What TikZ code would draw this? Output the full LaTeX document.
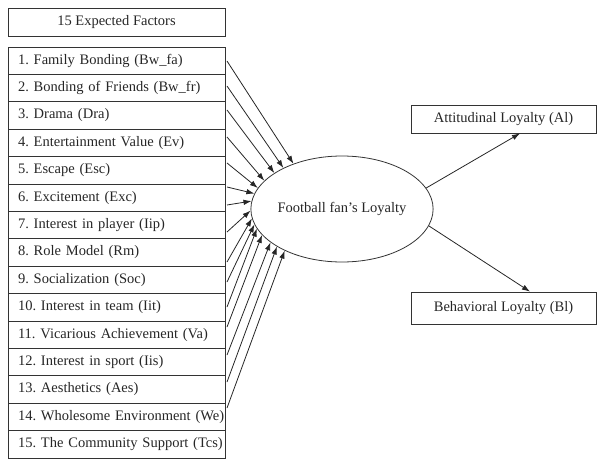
\documentclass[tikz,border=0pt]{standalone}
\usepackage{fontspec}
\setmainfont{Liberation Serif}
\usetikzlibrary{arrows.meta, shapes.geometric}

\tikzset{
  box/.style={draw=black!80, line width=0.8pt, inner sep=0pt, text=black!85},
  factor/.style={box, minimum height=27.4pt, text width=197pt, inner xsep=10pt, align=left},
  arr/.style={-{Latex[length=8pt,width=5.5pt]}, line width=0.8pt, draw=black!85},
}

\begin{document}
\begin{tikzpicture}[x=1pt, y=-1pt, font=\fontsize{14.5}{17}\selectfont\frenchspacing]
\def\w{217}
\def\h{27.4}
\useasboundingbox (0,0) rectangle (597,458);
\node[box, minimum width=\w pt, minimum height=28pt] (head) at (116.5,22) {15 Expected Factors};
\foreach \i/\t in {1/{1. Family Bonding (Bw\_fa)}, 2/{2. Bonding of Friends (Bw\_fr)},
    3/{3. Drama (Dra)}, 4/{4. Entertainment Value (Ev)}, 5/{5. Escape (Esc)},
    6/{6. Excitement (Exc)}, 7/{7. Interest in player (Iip)}, 8/{8. Role Model (Rm)},
    9/{9. Socialization (Soc)}, 10/{10. Interest in team (Iit)},
    11/{11. Vicarious Achievement (Va)}, 12/{12. Interest in sport (Iis)},
    13/{13. Aesthetics (Aes)}, 14/{14. Wholesome Environment (We)},
    15/{15. The Community Support (Tcs)}} {
    \node[factor] (f\i) at (116.5, 47+\i*\h-0.5*\h) {\mbox{\t}};
}
\node[box, ellipse, minimum width=165pt, minimum height=106pt] (fl) at (342,209) {Football fan's Loyalty};
\node[box, minimum width=185pt, minimum height=28pt] (al) at (503.5,119) {Attitudinal Loyalty (Al)};
\node[box, minimum width=185pt, minimum height=32pt] (bl) at (503.5,308) {Behavioral Loyalty (Bl)};
% factors into loyalty
\foreach \i/\y/\a in {1/61/137, 2/86/145, 3/110/152, 4/137/160, 5/163/166,
    6/187/170, 7/205/175, 8/232/181, 9/262/186, 10/282/190,
    11/307/193, 12/327/198, 13/355/205, 14/382/210, 15/408/216} {
    \coordinate (s\i) at (227,\y);
    \draw[arr] (s\i) -- (fl.\a);
}
\draw[arr] (fl.14) -- ([xshift=16.5pt]al.south);
\draw[arr] (fl.-11) -- ([xshift=26.5pt]bl.north);
\end{tikzpicture}
\end{document}
